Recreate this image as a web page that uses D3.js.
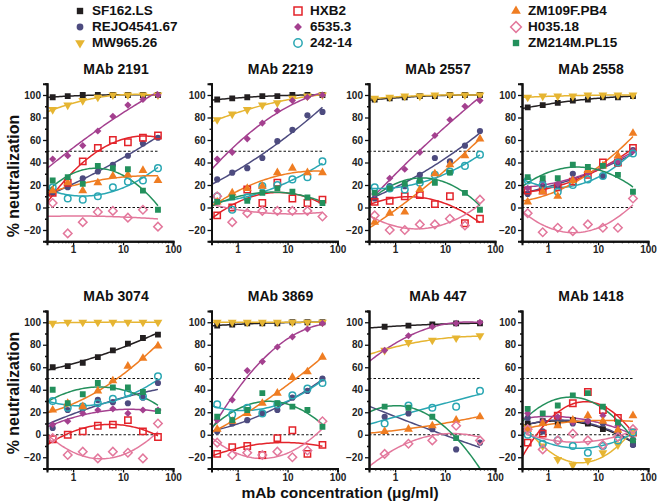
<!DOCTYPE html>
<html><head><meta charset="utf-8">
<script src="https://cdn.jsdelivr.net/npm/d3@7"></script>
<style>
body{margin:0;background:#fff}
text{font-family:"Liberation Sans",Arial,sans-serif;font-weight:bold}
</style>
</head><body>
<svg id="c" width="662" height="502"></svg>
<script>
// ---------- data ----------
const strains = ["SF162.LS","REJO4541.67","MW965.26","HXB2","6535.3","242-14","ZM109F.PB4","H035.18","ZM214M.PL15"];
const colors  = ["#231f20","#4d4b7f","#e6b532","#e3232a","#a4408f","#2aa7b3","#ef7d22","#e3789c","#23905c"];
const shapes  = ["square","circle","triDown","openSquare","diamond","openCircle","triUp","openDiamond","square"];
const mabNames = ["MAb 2191","MAb 2219","MAb 2557","MAb 2558","MAb 3074","MAb 3869","MAb 447","MAb 1418"];
const conc    = [0.39,0.78,1.56,3.125,6.25,12.5,25,50];
const conc447 = [0.617,1.85,5.56,16.67,50];
const yTicks  = [-20,0,20,40,60,80,100];
const xTicks  = [1,10,100];
const refLines = [0,50];

// values per strain (order of `strains`), % neutralization at each concentration
const mab2191 = [
  [98,99,100,100,100,100,100,100],
  [13,18,26,32,38,46,57,62],
  [87,91,95,98,100,100,100,100],
  [13,22,41,53,60,58,62,64],
  [43,46,55,68,81,91,96,100],
  [18,8,7,10,18,23,24,35],
  [15,22,15,22,28,29,33,24],
  [4,-23,-13,-4,-3,-9,-2,-17],
  [24,27,21,37,35,34,15,-2]
];
const mab2219 = [
  [96,97,98,99,99,100,100,100],
  [25,31,35,44,59,69,82,85],
  [78,83,87,91,93,97,99,100],
  [-7,0,16,4,22,8,4,7],
  [43,49,61,75,86,95,98,100],
  [10,-2,9,19,20,25,27,41],
  [5,13,17,19,31,35,31,31],
  [10,-13,-5,-3,-3,-3,-3,-8],
  [5,9,6,13,17,14,9,4]
];
const mab2557 = [
  [96,97,98,99,99,100,100,100],
  [8,19,19,29,44,41,55,68],
  [97,98,99,99,100,100,100,100],
  [5,6,10,11,3,10,-14,-10],
  [12,26,34,49,64,78,90,95],
  [18,17,16,22,29,32,37,47],
  [-13,-5,-4,16,30,38,46,61],
  [-7,-20,-20,-15,-15,-10,-16,7],
  [13,17,21,24,22,31,13,-2]
];
const mab2558 = [
  [89,91,93,95,96,98,98,99],
  [12,19,19,30,33,28,39,51],
  [98,99,99,99,100,100,100,100],
  [15,15,18,23,29,40,40,53],
  [17,23,21,25,31,37,41,50],
  [24,20,14,20,25,28,40,48],
  [5,14,10,24,33,37,46,66],
  [-5,-22,-18,-21,-15,-18,-18,8],
  [27,26,26,38,36,37,29,14]
];
const mab3074 = [
  [60,61,64,69,75,81,86,89],
  [6,22,23,31,29,28,33,46],
  [99,100,100,100,100,100,100,100],
  [-4,0,3,8,9,13,3,-2],
  [9,12,19,22,23,19,22,22],
  [30,24,25,28,32,37,34,52],
  [22,28,25,39,48,61,68,79],
  [-3,-18,-15,-21,-15,-16,-21,10],
  [40,28,36,46,42,42,38,21]
];
const mab3869 = [
  [97,98,99,99,99,100,100,100],
  [3,10,13,19,22,33,39,50],
  [100,100,100,100,100,100,100,100],
  [-17,-11,-10,-18,-3,4,-17,-9],
  [13,31,57,65,78,87,94,99],
  [27,18,24,19,27,35,41,46],
  [5,12,19,28,37,51,56,69],
  [-7,-18,-16,-18,-15,-20,-14,12],
  [16,13,22,37,28,25,22,7]
];
const mab447 = [
  [96,97,98,99,99],
  [16,19,5,-13,-7],
  [75,82,84,86,88],
  [null,null,null,null,null],
  [75,88,96,99,100],
  [10,26,24,25,39],
  [3,5,8,13,16],
  [-17,-8,-5,8,-5],
  [25,24,16,-3,null]
];
const mab1418 = [
  [10,12,9,13,10,5,2,-8],
  [15,3,15,10,12,10,2,-9],
  [6,-10,-22,-27,-23,-16,-9,2],
  [-7,1,17,28,38,22,15,2],
  [19,12,16,11,12,17,8,-4],
  [0,-8,-5,-10,-16,-10,-5,2],
  [5,10,8,13,17,12,4,17],
  [5,-13,-5,1,-5,-9,-2,5],
  [23,19,26,35,37,25,11,-5]
];
const panelData = [mab2191,mab2219,mab2557,mab2558,mab3074,mab3869,mab447,mab1418];
const panelConc = [conc,conc,conc,conc,conc,conc,conc447,conc];

// ---------- layout ----------
const svg = d3.select("#c");
const lefts = [47,211.5,369,522];
const tops  = [83.75,311];
const W = 126, H = 157.5;
const titleY = [70,297];

function symbolPath(shape, s){
  switch(shape){
    case "square": return d3.symbol(d3.symbolSquare, 34*s)();
    case "circle": return d3.symbol(d3.symbolCircle, 30*s)();
    case "triDown": return d3.symbol(d3.symbolTriangle, 34*s)();
    case "triUp": return d3.symbol(d3.symbolTriangle, 34*s)();
    case "diamond": return d3.symbol(d3.symbolSquare, 26*s)();
    case "openSquare": return d3.symbol(d3.symbolSquare, 40*s)();
    case "openCircle": return d3.symbol(d3.symbolCircle, 34*s)();
    case "openDiamond": return d3.symbol(d3.symbolSquare, 36*s)();
  }
}
function drawSym(g, shape, color, cx, cy, s){
  const open = shape.startsWith("open");
  let rot = "";
  if(shape==="triDown") rot = " rotate(180)";
  if(shape==="diamond" || shape==="openDiamond") rot = " rotate(45)";
  g.append("path").attr("d", symbolPath(shape, s))
    .attr("transform", `translate(${cx},${cy})` + rot)
    .attr("fill", open ? "none" : color)
    .attr("stroke", open ? color : "none")
    .attr("stroke-width", open ? 1.5 : 0);
}
// least-squares quadratic in log10(x)
function fitQuad(xs, ys){
  const p = xs.map((x,i)=>[Math.log10(x), ys[i]]).filter(d=>d[1]!=null);
  if(p.length<3) return null;
  let S=[0,0,0,0,0], T=[0,0,0];
  p.forEach(([u,v])=>{ for(let k=0;k<5;k++) S[k]+=Math.pow(u,k); for(let k=0;k<3;k++) T[k]+=v*Math.pow(u,k); });
  const A=[[S[0],S[1],S[2],T[0]],[S[1],S[2],S[3],T[1]],[S[2],S[3],S[4],T[2]]];
  for(let i=0;i<3;i++){
    let m=i; for(let r=i+1;r<3;r++) if(Math.abs(A[r][i])>Math.abs(A[m][i])) m=r;
    [A[i],A[m]]=[A[m],A[i]];
    for(let r=0;r<3;r++){ if(r===i) continue; const f=A[r][i]/A[i][i]; for(let c=i;c<4;c++) A[r][c]-=f*A[i][c]; }
  }
  const c=[A[0][3]/A[0][0],A[1][3]/A[1][1],A[2][3]/A[2][2]];
  return x=>{const u=Math.log10(x); return c[0]+c[1]*u+c[2]*u*u;};
}

panelData.forEach((series, pi)=>{
  const r = Math.floor(pi/4), ci = pi%4;
  const g = svg.append("g").attr("transform",`translate(${lefts[ci]},${tops[r]})`);
  const x = d3.scaleLog().domain([0.3,100]).range([0,W]);
  const y = d3.scaleLinear().domain([-30,110]).range([H,0]);
  const cid = "clip"+pi;
  g.append("clipPath").attr("id",cid).append("rect").attr("x",0).attr("y",0).attr("width",W).attr("height",H);

  // title
  svg.append("text").attr("x",lefts[ci]+W/2+6).attr("y",titleY[r]).attr("text-anchor","middle")
    .attr("dominant-baseline","middle").attr("font-size","14px").attr("fill","#111").text(mabNames[pi]);

  // reference lines
  refLines.forEach(v=>{
    g.append("line").attr("x1",0).attr("x2",x(52)).attr("y1",y(v)).attr("y2",y(v))
      .attr("stroke","#111").attr("stroke-width",1.1).attr("stroke-dasharray","2.5,2");
  });

  const cs = panelConc[pi];
  const plot = g.append("g").attr("clip-path",`url(#${cid})`);
  // curves
  series.forEach((vals, si)=>{
    const f = fitQuad(cs, vals);
    if(!f) return;
    const xsS = d3.range(0,61).map(k=>Math.pow(10, Math.log10(0.3)+k/60*(Math.log10(50)-Math.log10(0.3))));
    plot.append("path").datum(xsS)
      .attr("d", d3.line().x(d=>x(d)).y(d=>y(f(d))))
      .attr("fill","none").attr("stroke",colors[si]).attr("stroke-width",1.5);
  });
  // points
  series.forEach((vals, si)=>{
    vals.forEach((v,k)=>{
      if(v==null || v<-30 || v>110) return;
      drawSym(plot, shapes[si], colors[si], x(cs[k]), y(v), 1);
    });
  });

  // axes
  g.append("g").call(d3.axisLeft(y).tickValues(yTicks).tickSize(4).tickPadding(2));
  g.append("g").call(d3.axisLeft(y).tickValues([-30,-10,10,30,50,70,90,110]).tickSize(2).tickFormat(""));
  g.append("g").attr("transform",`translate(0,${H})`)
    .call(d3.axisBottom(x).tickValues(xTicks).tickFormat(d3.format("d")).tickSize(4).tickPadding(1));
  const minorX = [0.3,0.4,0.5,0.6,0.7,0.8,0.9,2,3,4,5,6,7,8,9,20,30,40,50,60,70,80,90];
  g.append("g").attr("transform",`translate(0,${H})`)
    .call(d3.axisBottom(x).tickValues(minorX).tickSize(2).tickFormat(""));
  g.selectAll(".domain").attr("stroke","#111").attr("stroke-width",2);
  g.selectAll(".tick line").attr("stroke","#111").attr("stroke-width",1.3);
  g.selectAll(".tick text").attr("font-size","10px").attr("fill","#222")
    .attr("font-family","'Liberation Sans',Arial,sans-serif").attr("font-weight","bold");
});

// y labels
[176,393].forEach(cy=>{
  svg.append("text").attr("transform",`translate(15,${cy}) rotate(-90)`).attr("text-anchor","middle")
    .attr("dominant-baseline","middle").attr("font-size","16px").attr("fill","#111").text("% neutralization");
});
// x label
svg.append("text").attr("x",340).attr("y",494).attr("text-anchor","middle").attr("dominant-baseline","middle")
  .attr("font-size","15.5px").attr("fill","#111").text("mAb concentration (\u03bcg/ml)");

// legend
const legX = [80,298,516], legY = [11,27,43];
strains.forEach((s,i)=>{
  const col = Math.floor(i/3), row = i%3;
  const lg = svg.append("g");
  drawSym(lg, shapes[i], colors[i], legX[col], legY[row], shapes[i].startsWith("open")?1.6:1.2);
  lg.append("text").attr("x",legX[col]+12).attr("y",legY[row]).attr("dominant-baseline","middle")
    .attr("font-size","13.5px").attr("fill","#111").text(s);
});
</script>
</body></html>
